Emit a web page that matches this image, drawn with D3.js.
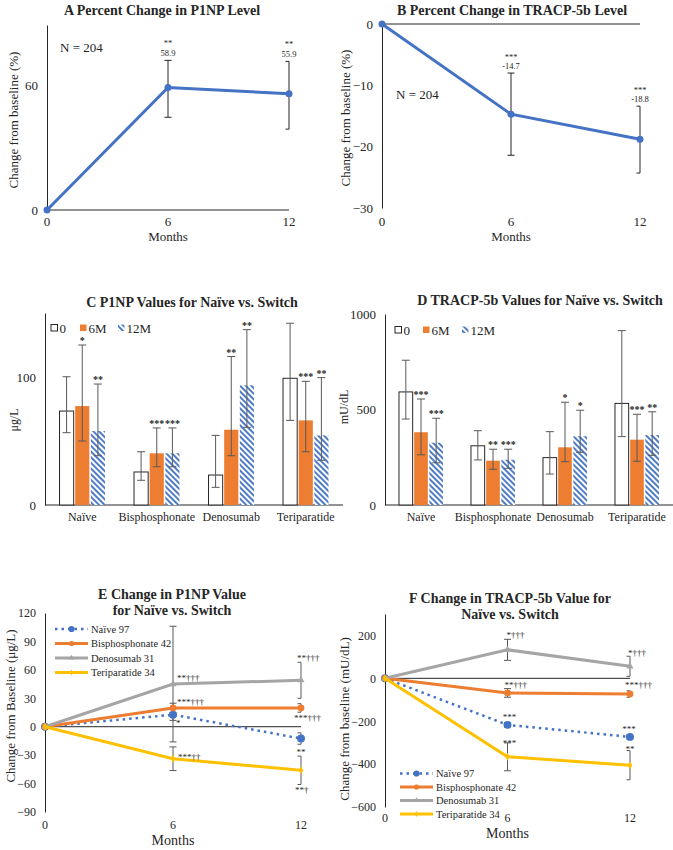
<!DOCTYPE html>
<html>
<head>
<meta charset="utf-8">
<script src="https://cdn.jsdelivr.net/npm/d3@7"></script>
<style>
body { margin: 0; background: #fff; }
svg, svg text { font-family: "Liberation Serif", "Times New Roman", Times, serif; }
svg text { fill: #262626; }
</style>
</head>
<body>
<div id="fig"></div>
<script>
//months on the x axis of the line panels
var months = [0, 6, 12];

//A percent change in P1NP (mean, error bar top / bottom)
var p1npPct = [0, 58.9, 55.9];
var p1npPctHi = [0, 72.0, 71.5];
var p1npPctLo = [0, 44.6, 38.9];
var p1npPctSig = ["", "**", "**"];

//B percent change in TRACP-5b
var tracpPct = [0, -14.7, -18.8];
var tracpPctHi = [0, -8.0, -13.4];
var tracpPctLo = [0, -21.4, -24.3];
var tracpPctSig = ["", "***", "***"];

//groups and visits for the bar panels
var groups = ["Naïve", "Bisphosphonate", "Denosumab", "Teriparatide"];
var visits = ["0", "6M", "12M"];

//C P1NP values (ug/L)
var p1np0 = [73.4, 25.8, 23.4, 99.0];
var p1np0Hi = [100.2, 41.6, 54.4, 142];
var p1np0Lo = [56.5, 19.3, 13.8, 66.1];
var p1np6 = [77.3, 40.4, 58.8, 66.1];
var p1np6Hi = [125, 60.2, 116, 96.6];
var p1np6Lo = [50, 29.9, 38.5, 41.6];
var p1np6Sig = ["*", "***", "**", "***"];
var p1np12 = [57.8, 40.4, 93.5, 54.4];
var p1np12Hi = [94.5, 60.2, 137, 99.5];
var p1np12Lo = [38.5, 29.9, 60.7, 34.9];
var p1np12Sig = ["**", "***", "**", "**"];

//D TRACP-5b values (mU/dL)
var tracp0 = [592, 310, 248, 532];
var tracp0Hi = [758, 389, 384, 913];
var tracp0Lo = [450, 236, 162, 358];
var tracp6 = [381, 232, 302, 342];
var tracp6Hi = [555, 292, 538, 475];
var tracp6Lo = [263, 187, 227, 229];
var tracp6Sig = ["***", "**", "*", "***"];
var tracp12 = [326, 237, 360, 366];
var tracp12Hi = [454, 292, 496, 488];
var tracp12Lo = [221, 192, 276, 260];
var tracp12Sig = ["***", "***", "*", "**"];

//E / F series names
var seriesNames = ["Naïve 97", "Bisphosphonate 42", "Denosumab 31", "Teriparatide 34"];

//E change in P1NP (ug/L), +/- error
var eNaive = [0, 12.7, -12.5], eNaiveErr = [0, 6, 6], eNaiveSig = ["", "*", "**"];
var eBis = [0, 19.8, 19.8], eBisErr = [0, 5, 4.5], eBisSig = ["", "***†††", "***†††"];
var eDeno = [0, 45, 49], eDenoErr = [0, 61, 19], eDenoSig = ["", "**†††", "**†††"];
var eTeri = [0, -33.8, -46], eTeriErr = [0, 12.5, 15], eTeriSig = ["", "***††", "**†"];

//F change in TRACP-5b (mU/dL), +/- error
var fNaive = [0, -217, -273], fNaiveErr = [0, 10, 10], fNaiveSig = ["", "***", "***"];
var fBis = [0, -68, -73], fBisErr = [0, 20, 15], fBisSig = ["", "**†††", "***†††"];
var fDeno = [0, 133, 56], fDenoErr = [0, 49, 47], fDenoSig = ["", "*†††", "*†††"];
var fTeri = [0, -366, -405], fTeriErr = [0, 65, 68], fTeriSig = ["", "***", "**"];

//colours (Office palette)
var ink = "#262626", errInk = "#595959";
var blue = "#4472C4", orange = "#ED7D31", gray = "#A5A5A5", gold = "#FFC000";
var serif = "'Liberation Serif', 'Times New Roman', Times, serif";

var svg = d3.select("#fig").append("svg")
  .attr("width", 673).attr("height", 850)
  .style("font-family", serif);
svg.append("rect").attr("width", 673).attr("height", 850).attr("fill", "#fff");

//hatch for the 12M bars
var pat = svg.append("defs").append("pattern")
  .attr("id", "hatch").attr("patternUnits", "userSpaceOnUse")
  .attr("width", 4).attr("height", 4).attr("patternTransform", "rotate(-45)");
pat.append("rect").attr("width", 4).attr("height", 4).attr("fill", "#fff");
pat.append("line").attr("x1", 1).attr("x2", 1).attr("y1", 0).attr("y2", 4)
  .attr("stroke", "#4f7cc6").attr("stroke-width", 2);

function label(g, x, y, s, size, anchor, weight) {
  return g.append("text").attr("x", x).attr("y", y)
    .attr("text-anchor", anchor || "middle")
    .style("font-family", serif)
    .style("font-size", size + "px")
    .style("font-weight", weight || "normal")
    .style("fill", ink)
    .text(s);
}

function yAxis(g, y, x0, ticks, size) {
  var a = g.append("g").attr("transform", "translate(" + x0 + ",0)")
    .call(d3.axisLeft(y).tickValues(ticks).tickFormat(d3.format("d"))
      .tickSize(0).tickSizeOuter(0).tickPadding(9));
  a.attr("font-family", null);
  a.select(".domain").attr("stroke", ink);
  a.selectAll("text").style("font-family", serif).style("font-size", size + "px").style("fill", ink);
  return a;
}

//error bar, caps clipped at the right edge of the plot
function errBar(g, x, yHi, yLo, cap, xMax, col) {
  var r = Math.min(x + cap, xMax);
  g.append("line").attr("x1", x).attr("x2", x).attr("y1", yHi).attr("y2", yLo).attr("stroke", col);
  g.append("line").attr("x1", x - cap).attr("x2", r).attr("y1", yHi).attr("y2", yHi).attr("stroke", col);
  g.append("line").attr("x1", x - cap).attr("x2", r).attr("y1", yLo).attr("y2", yLo).attr("stroke", col);
}

//---------- A and B ----------
function pctPanel(o) {
  var g = svg.append("g");
  var x = d3.scaleLinear().domain([0, 12]).range([o.left, o.right]);
  var y = d3.scaleLinear().domain(o.yDomain).range([o.bottom, o.top]);

  yAxis(g, y, o.left, o.yTicks, 13);
  g.append("line").attr("x1", o.left).attr("x2", o.right)
    .attr("y1", y(0)).attr("y2", y(0)).attr("stroke", ink);

  months.forEach(function(m, i) {
    if (i > 0) errBar(g, x(m), y(o.hi[i]), y(o.lo[i]), 3.5, o.right, ink);
  });

  g.append("path").datum(months)
    .attr("fill", "none").attr("stroke", blue).attr("stroke-width", 3)
    .attr("d", d3.line().x(function(d) { return x(d); })
      .y(function(d, i) { return y(o.vals[i]); }));
  g.selectAll(".pt").data(months).enter().append("circle")
    .attr("cx", function(d) { return x(d); })
    .attr("cy", function(d, i) { return y(o.vals[i]); })
    .attr("r", 3.5).attr("fill", blue);

  months.forEach(function(m, i) {
    if (i == 0) return;
    label(g, x(m), y(o.hi[i]) - o.starOff, o.sig[i], 8.5);
    label(g, x(m), y(o.hi[i]) - o.numOff, o.vals[i].toFixed(1), 8.5);
    label(g, x(m), o.labelY, m, 13);
  });
  label(g, x(0), o.labelY, 0, 13);
  label(g, (o.left + o.right) / 2, o.labelY + 15, "Months", 13);
  label(g, o.nx, o.ny, "N = 204", 13, "start");
  label(g, o.titleX, 15, o.title, 14, "middle", "bold");
  label(g, 0, 0, "Change from baseline (%)", 13)
    .attr("transform", "translate(" + o.axisTitleX + "," + o.axisTitleY + ") rotate(-90)");
}

pctPanel({
  left: 47, right: 289, top: 25, bottom: 210, yDomain: [0, 89], yTicks: [0, 60],
  vals: p1npPct, hi: p1npPctHi, lo: p1npPctLo, sig: p1npPctSig,
  starOff: 14, numOff: 4, labelY: 226, nx: 60, ny: 52,
  title: "A Percent Change in P1NP Level", titleX: 162, axisTitleX: 18, axisTitleY: 120
});
pctPanel({
  left: 382, right: 640, top: 24, bottom: 208, yDomain: [-30, 0], yTicks: [0, -10, -20, -30],
  vals: tracpPct, hi: tracpPctHi, lo: tracpPctLo, sig: tracpPctSig,
  starOff: 13.5, numOff: 4, labelY: 226, nx: 396, ny: 99,
  title: "B Percent Change in TRACP-5b Level", titleX: 512, axisTitleX: 350, axisTitleY: 118
});

//---------- C and D ----------
function barPanel(o) {
  var g = svg.append("g");
  var x = d3.scaleBand().domain(groups).range([o.left, o.right]);
  var y = d3.scaleLinear().domain(o.yDomain).range([o.bottom, o.top]);
  var bw = x.step() * 0.19, gap = 1.5;
  var fills = ["#fff", orange, "url(#hatch)"];

  yAxis(g, y, o.left, o.yTicks, 13);
  g.append("line").attr("x1", o.left).attr("x2", o.right)
    .attr("y1", o.bottom).attr("y2", o.bottom).attr("stroke", ink);

  o.rows.forEach(function(r, k) {
    var off = (k - 1) * (bw + gap) - bw / 2;
    g.selectAll(".b" + k).data(groups).enter().append("rect")
      .attr("x", function(d) { return x(d) + x.bandwidth() / 2 + off; })
      .attr("y", function(d, i) { return y(r.vals[i]); })
      .attr("width", bw)
      .attr("height", function(d, i) { return o.bottom - y(r.vals[i]); })
      .attr("fill", fills[k])
      .attr("stroke", k == 0 ? ink : "none");
    groups.forEach(function(d, i) {
      var cx = x(d) + x.bandwidth() / 2 + off + bw / 2;
      errBar(g, cx, y(r.hi[i]), y(r.lo[i]), 4, 9999, errInk);
      if (r.sig) label(g, cx, y(r.hi[i]) - 1, r.sig[i], 10, "middle", "bold");
    });
  });

  groups.forEach(function(d) {
    label(g, x(d) + x.bandwidth() / 2, o.bottom + 16, d, 12);
  });

  //legend
  visits.forEach(function(v, k) {
    var lx = o.legX[k];
    g.append("rect").attr("x", lx).attr("y", o.legY - 3.5).attr("width", 6.5).attr("height", 6.5)
      .attr("fill", fills[k]).attr("stroke", k == 0 ? ink : "none");
    label(g, lx + 8.5, o.legY + 4.5, v, 13, "start");
  });

  label(g, o.titleX, o.titleY, o.title, 14, "middle", "bold");
  label(g, 0, 0, o.yTitle, 12)
    .attr("transform", "translate(" + o.axisTitleX + "," + o.axisTitleY + ") rotate(-90)");
}

barPanel({
  left: 45, right: 343, top: 313, bottom: 505, yDomain: [0, 150], yTicks: [0, 100],
  rows: [
    {vals: p1np0, hi: p1np0Hi, lo: p1np0Lo},
    {vals: p1np6, hi: p1np6Hi, lo: p1np6Lo, sig: p1np6Sig},
    {vals: p1np12, hi: p1np12Hi, lo: p1np12Lo, sig: p1np12Sig}
  ],
  legX: [51, 80, 118], legY: 328,
  title: "C P1NP Values for Naïve vs. Switch", titleX: 192, titleY: 307,
  yTitle: "μg/L", axisTitleX: 18, axisTitleY: 420
});
barPanel({
  left: 385, right: 673, top: 314, bottom: 505, yDomain: [0, 1000], yTicks: [0, 500, 1000],
  rows: [
    {vals: tracp0, hi: tracp0Hi, lo: tracp0Lo},
    {vals: tracp6, hi: tracp6Hi, lo: tracp6Lo, sig: tracp6Sig},
    {vals: tracp12, hi: tracp12Hi, lo: tracp12Lo, sig: tracp12Sig}
  ],
  legX: [395, 423, 462], legY: 330,
  title: "D TRACP-5b Values for Naïve vs. Switch", titleX: 540, titleY: 305,
  yTitle: "mU/dL", axisTitleX: 348, axisTitleY: 407
});

//---------- E and F ----------
var markers = [d3.symbolCircle, d3.symbolCircle, d3.symbolTriangle, d3.symbolDiamond];
var markerSize = [50, 36, 22, 18];
var lineCols = [blue, orange, gray, gold];

function changePanel(o) {
  var g = svg.append("g");
  var x = d3.scaleLinear().domain([0, 12]).range([o.left, o.right]);
  var y = d3.scaleLinear().domain(o.yDomain).range([o.bottom, o.top]);

  yAxis(g, y, o.left, o.yTicks, 12);
  g.append("line").attr("x1", o.left).attr("x2", o.right)
    .attr("y1", y(0)).attr("y2", y(0)).attr("stroke", ink);

  //error bars first, under the lines
  o.series.forEach(function(s) {
    months.forEach(function(m, i) {
      if (i > 0) errBar(g, x(m), y(s.vals[i] + s.err[i]), y(s.vals[i] - s.err[i]), 3.5, o.right, errInk);
    });
  });

  o.series.forEach(function(s, k) {
    g.append("path").datum(months)
      .attr("fill", "none").attr("stroke", lineCols[k])
      .attr("stroke-width", k == 0 ? 2.5 : 3)
      .attr("stroke-dasharray", k == 0 ? "2.5 4" : null)
      .attr("d", d3.line().x(function(d) { return x(d); })
        .y(function(d, i) { return y(s.vals[i]); }));
    g.selectAll(".m" + k).data(months).enter().append("path")
      .attr("transform", function(d, i) { return "translate(" + x(d) + "," + y(s.vals[i]) + ")"; })
      .attr("d", d3.symbol().type(markers[k]).size(markerSize[k]))
      .attr("fill", lineCols[k]);
  });

  //significance marks
  o.series.forEach(function(s, k) {
    months.forEach(function(m, i) {
      if (!s.sig[i]) return;
      var p = o.sigPos[k][i - 1];
      label(g, x(m) + p[0], y(s.vals[i]) + p[1], s.sig[i], 9, p[2]);
    });
  });

  months.forEach(function(m) { label(g, x(m), o.labelY, m, 12); });
  label(g, x(6), o.labelY + 16, "Months", 14);

  //legend
  seriesNames.forEach(function(n, k) {
    var ly = o.legY + k * o.legStep;
    g.append("line").attr("x1", o.legX).attr("x2", o.legX + 33)
      .attr("y1", ly).attr("y2", ly).attr("stroke", lineCols[k])
      .attr("stroke-width", k == 0 ? 2.5 : 3)
      .attr("stroke-dasharray", k == 0 ? "2.5 4" : null);
    g.append("path").attr("transform", "translate(" + (o.legX + 16.5) + "," + ly + ")")
      .attr("d", d3.symbol().type(markers[k]).size(markerSize[k] * 0.6))
      .attr("fill", lineCols[k]);
    label(g, o.legX + 36, ly + 3.5, n, 10.5, "start");
  });

  o.title.forEach(function(t, i) {
    label(g, o.titleX, o.titleY + i * 15.5, t, 14, "middle", "bold");
  });
  label(g, 0, 0, o.yTitle, 13)
    .attr("transform", "translate(" + o.axisTitleX + "," + o.axisTitleY + ") rotate(-90)");
}

changePanel({
  left: 45, right: 301, top: 613, bottom: 812, yDomain: [-90, 120],
  yTicks: [-90, -60, -30, 0, 30, 60, 90, 120],
  series: [
    {vals: eNaive, err: eNaiveErr, sig: eNaiveSig},
    {vals: eBis, err: eBisErr, sig: eBisSig},
    {vals: eDeno, err: eDenoErr, sig: eDenoSig},
    {vals: eTeri, err: eTeriErr, sig: eTeriSig}
  ],
  //[dx, dy, anchor] for month 6 and month 12
  sigPos: [
    [[3, 11, "start"], [0, 16, "middle"]],
    [[4, -2.5, "start"], [-7, 13.5, "start"]],
    [[4, -3.5, "start"], [-4, -19.5, "start"]],
    [[5, 1, "start"], [-6, 23, "start"]]
  ],
  labelY: 829, legX: 55, legY: 629, legStep: 14.5,
  title: ["E Change in P1NP Value", "for Naïve vs. Switch"], titleX: 172, titleY: 599,
  yTitle: "Change from Baseline (μg/L)", axisTitleX: 15, axisTitleY: 706
});
changePanel({
  left: 385, right: 630, top: 614, bottom: 807, yDomain: [-600, 300],
  yTicks: [-600, -400, -200, 0, 200],
  series: [
    {vals: fNaive, err: fNaiveErr, sig: fNaiveSig},
    {vals: fBis, err: fBisErr, sig: fBisSig},
    {vals: fDeno, err: fDenoErr, sig: fDenoSig},
    {vals: fTeri, err: fTeriErr, sig: fTeriSig}
  ],
  sigPos: [
    [[2, -5, "middle"], [-1, -5, "middle"]],
    [[-3, -4.5, "start"], [-5, -5.5, "start"]],
    [[-1, -12, "start"], [-2, -10, "start"]],
    [[2, -11, "middle"], [0, -13, "middle"]]
  ],
  labelY: 822, legX: 400, legY: 773.5, legStep: 13.5,
  title: ["F Change in TRACP-5b  Value for", "Naïve vs. Switch"], titleX: 510, titleY: 603,
  yTitle: "Change from  baseline (mU/dL)", axisTitleX: 349, axisTitleY: 719
});
</script>
</body>
</html>
